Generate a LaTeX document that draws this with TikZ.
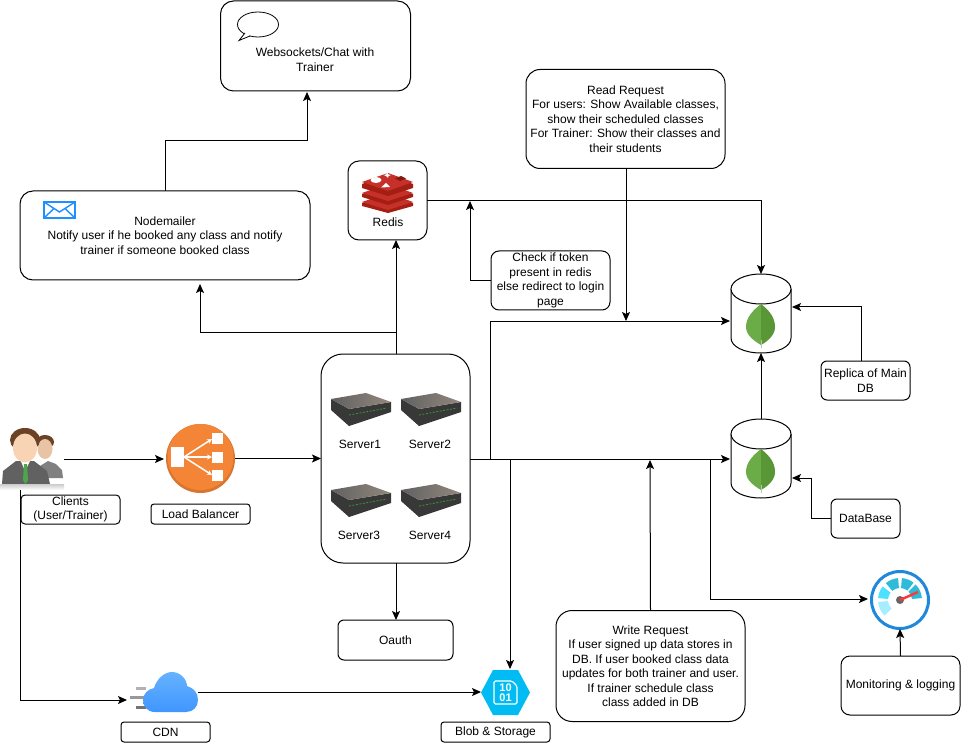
\documentclass[tikz,border=0pt]{standalone}
\usepackage{fontspec}
\setmainfont{Liberation Sans}
\usetikzlibrary{arrows.meta}

\definecolor{lbfill}{HTML}{F58536}
\definecolor{lbdark}{HTML}{D9752E}
\definecolor{leaflight}{HTML}{6CAC48}
\definecolor{leafdark}{HTML}{599636}
\definecolor{redislight}{HTML}{C6302B}
\definecolor{redisdark}{HTML}{A41E11}
\definecolor{blobfill}{HTML}{00BCF2}
\definecolor{ringblue}{HTML}{1E88DC}
\definecolor{mailblue}{HTML}{1E8FFF}
\definecolor{sega}{HTML}{A6EEFF}
\definecolor{segb}{HTML}{4DE0FF}
\definecolor{segc}{HTML}{2DBBD9}
\definecolor{skinfront}{HTML}{F8D3B4}
\definecolor{skinback}{HTML}{E8C3A4}
\definecolor{hair}{HTML}{6B4226}

\begin{document}
\begin{tikzpicture}[
	  x=1pt,y=-1pt,
	  line width=1pt,
	  >={Stealth[length=9pt,width=8pt,inset=2pt]},
	  every node/.style={font=\fontsize{12}{14.5}\selectfont,align=center,inner sep=0pt,outer sep=0pt},
	  box/.style={draw,fill=white,rounded corners=#1},
	  box/.default=10,
	  dbnode/.style={minimum width=60,minimum height=79},
	  dbcan/.pic={
	    \draw [fill=white] (-30,-24.5) -- (-30,24.5) .. controls (-30,33) and (-17,39.5) .. (0,39.5) .. controls (17,39.5) and (30,33) .. (30,24.5) -- (30,-24.5);
	    \draw [fill=white] (0,-24.5) ellipse [x radius=30,y radius=15];
	    \fill [leaflight] (0,-9.5) .. controls (-9,-2.5) and (-15,4.5) .. (-15,13.5) .. controls (-15,21.5) and (-7,27.5) .. (0,31.5) -- cycle;
	    \fill [leafdark] (0,-9.5) .. controls (9,-2.5) and (14,4.5) .. (14,13.5) .. controls (14,21.5) and (7,27.5) .. (0,31.5) -- cycle;
	    \draw [black!25] (0,26) -- (0,34.5);
	  },
	  srvicon/.pic={
	    \fill [black!78] (0,6) -- (18,16) -- (60,9) -- (60,19) -- (18,33) -- (0,17) -- cycle;
	    \shade [left color=black!62,right color=brown!30!black!55] (0,6) -- (35,0) -- (60,9) -- (18,16) -- cycle;
	    \draw [green!50!black!80,line width=0.8pt,dash pattern=on 2pt off 1.5pt] (18,22) -- (56,15);
	  },
	]

	\useasboundingbox (0,0) rectangle (961,743);

	% boxes
	\node (chat) [box=13,minimum width=190,minimum height=90] at (315.5,46) {};
	\node (chattxt) at (315,59.5) {Websockets/Chat with\\Trainer};
	\node (redis) [box=11,minimum width=79,minimum height=79] at (387.5,200.5) {};
	\node (redistxt) at (388,222) {Redis};
	\node (mailer) [box=13,minimum width=290,minimum height=89] at (165,235.5) {Nodemailer\\Notify user if he booked any class and notify\\trainer if someone booked class};
	\node (read) [box=14,minimum width=199,minimum height=99] at (625.5,119) {Read Request\\For users: Show Available classes,\\show their scheduled classes\\For Trainer: Show their classes and\\their students};
	\node (check) [box=8,minimum width=119,minimum height=59] at (550.5,280.5) {Check if token\\present in redis\\else redirect to login\\page};
	\node (server) [box=22,minimum width=149,minimum height=209] at (395.5,458.5) {};
	\node (clientlbl) [box=4,minimum width=99,minimum height=29] at (70.5,509.5) {Clients\\(User/Trainer)};
	\node (lblbl) [box=3,minimum width=99,minimum height=20] at (200.5,514) {Load Balancer};
	\node (oauth) [box=6,minimum width=115,minimum height=40] at (395.5,640) {Oauth};
	\node (replica) [box=6,minimum width=89,minimum height=39] at (865.5,380.5) {Replica of Main\\DB};
	\node (database) [box=6,minimum width=69,minimum height=39] at (865.5,518.5) {DataBase};
	\node (monitor) [box=9,minimum width=119,minimum height=59] at (900.5,685.5) {Monitoring \& logging};
	\node (write) [box=16,minimum width=189,minimum height=111] at (650.5,666) {Write Request\\If user signed up data stores in\\DB. If user booked class data\\updates for both trainer and user.\\If trainer schedule class\\class added in DB};
	\node (cdnlbl) [box=3,minimum width=89,minimum height=20] at (165.5,732) {CDN};
	\node (bloblbl) [box=3,minimum width=109,minimum height=20] at (495.5,732) {Blob \& Storage};

	% databases
	\node (maindb) [dbnode] at (761,313.5) {};
	\node (slavedb) [dbnode] at (761,458.5) {};
	\path (maindb) pic {dbcan};
	\path (slavedb) pic {dbcan};

	% servers
	\path (331,393) pic {srvicon};
	\path (401,393) pic {srvicon};
	\path (331,484) pic {srvicon};
	\path (401,484) pic {srvicon};
	\node (srvone) at (360,444) {Server1};
	\node (srvtwo) at (430,444) {Server2};
	\node (srvthree) at (359,535) {Server3};
	\node (srvfour) at (430,535) {Server4};

	% clients
	\node (clients) [minimum width=63,minimum height=62] at (32.5,459) {};
	\fill [black!50] (40,478) -- (40,466) -- (48,461) -- (56,464) -- (62,470) -- (63,478) -- cycle;
	\fill [hair] (45,442) ellipse [x radius=9,y radius=7];
	\fill [skinback] (45,449) ellipse [x radius=7.5,y radius=10];
	\fill [black!62] (2,484) -- (3,471) -- (16,461) -- (34,461) -- (47,471) -- (50,484) -- cycle;
	\fill [white] (20,459) -- (25,471) -- (31,459) -- cycle;
	\fill [green!50!black!70] (24,464) -- (27,464) -- (28,480) -- (25.5,484) -- (23,480) -- cycle;
	\fill [hair] (25,440) ellipse [x radius=15,y radius=12];
	\fill [skinfront] (25,448) ellipse [x radius=12,y radius=14.5];
	\shade [top color=black!20,bottom color=white] (0,484) rectangle (64,490);

	% load balancer
	\node (lb) [circle,fill=lbdark,minimum size=69] at (200.5,458.5) {};
	\fill [lbfill] (200.5,457) circle [radius=33];
	\fill [white] (171,447) rectangle (184,467);
	\fill [white] (212,433) rectangle (223,444);
	\fill [white] (212,452) rectangle (223,463);
	\fill [white] (212,470) rectangle (223,481);
	\begin{scope}[white,line width=1.5pt,>={Stealth[length=5pt,width=5pt]}]
	\draw [->] (184,457) -- (212,439);
	\draw [->] (184,457) -- (212,457);
	\draw [->] (184,457) -- (212,475);
	\end{scope}

	% redis logo
	\fill [redisdark] (362,203) -- (388,194) -- (413,203) -- (413,206) -- (388,213) -- (362,206) -- cycle;
	\fill [redislight] (362,202) -- (388,193) -- (413,202) -- (388,210) -- cycle;
	\fill [redisdark] (362,194) -- (388,185) -- (413,194) -- (413,197) -- (388,205) -- (362,197) -- cycle;
	\fill [redislight] (362,193) -- (388,184) -- (413,193) -- (388,201) -- cycle;
	\fill [redisdark] (362,184) -- (388,175) -- (413,184) -- (413,188) -- (388,196) -- (362,188) -- cycle;
	\fill [redislight] (362,182) -- (388,173) -- (413,182) -- (388,191) -- cycle;
	\fill [white] (376,180) ellipse [x radius=5.5,y radius=3];
	\fill [white] (387,172.5) -- (388.5,174.5) -- (391,175) -- (388.5,176) -- (388,178) -- (386,176) -- (383.5,175) -- (386,174.5) -- cycle;
	\fill [white] (381,187.5) -- (386,183) -- (390,187) -- cycle;
	\fill [redisdark!80!black] (395,178.5) -- (401,176) -- (406,178.5) -- (400,181) -- cycle;

	% mail and bubble
	\draw [mailblue,line width=1.6pt] (44,202) rectangle (75,218);
	\draw [mailblue,line width=1.4pt] (44,202) -- (59.5,212) -- (75,202) (44,218) -- (54,208.5) (75,218) -- (65,208.5);
	\draw [line width=0.8pt] (258,24.5) ellipse [x radius=20.5,y radius=12.5];
	\draw [line width=0.8pt,fill=white] (245,33) -- (239,40.5) -- (250,36);
	\fill [white] (246,33.2) -- (243,37) -- (249.5,35) -- cycle;

	% cdn
	\node (cdn) [minimum width=68,minimum height=40] at (164,692) {};
	\draw [black!30,line width=3pt] (136,688) -- (146,688);
	\draw [black!40,line width=3pt] (130,697) -- (146,697);
	\draw [black!55,line width=3pt] (136,707) -- (146,707);
	\shade [top color=blue!50!cyan!60,bottom color=blue!55!cyan!75!white]
	  (155,712) .. controls (147,712) and (143,706) .. (143,700) .. controls (143,694) and (148,689) .. (154,688)
	  .. controls (157,678) and (165,672) .. (172,672) .. controls (181,672) and (187,680) .. (187,686)
	  .. controls (194,688) and (198,693) .. (198,700) .. controls (198,707) and (193,712) .. (186,712) -- cycle;

	% blob
	\node (blob) [minimum width=49,minimum height=45] at (505.5,692.5) {};
	\fill [blobfill] (481,692.5) -- (493,670) -- (518,670) -- (530,692.5) -- (518,715) -- (493,715) -- cycle;
	\draw [white,line width=1.2pt,rounded corners=1.5] (494,681) -- (512,681) -- (517,686) -- (517,704) -- (494,704) -- cycle;
	\node (bloba) [white,font=\fontsize{11}{11}\selectfont\bfseries] at (505.5,687.5) {10};
	\node (blobb) [white,font=\fontsize{11}{11}\selectfont\bfseries] at (505.5,698) {01};

	% gauge
	\node (gauge) [circle,draw=ringblue,line width=3pt,fill=white,minimum size=57] at (900,600) {};
	\begin{scope}[shift={(900,600)}]
	\foreach \sa/\ea/\segcol in {-225/-185/sega,-175/-142/segb,-130/-95/segc,-85/-52/segc,-45/-5/segc}
	  \fill [\segcol] (\sa:22) arc [start angle=\sa,end angle=\ea,radius=22] -- (\ea:12) arc [start angle=\ea,end angle=\sa,radius=12] -- cycle;
	\end{scope}
	\fill [black!60] (900,600) circle [radius=4];
	\draw [red!70!pink,line width=2.5pt] (900,600) -- (918,592);

	% connectors
	\coordinate (lbin) at (164,459);
	\coordinate (clientsout) at (64,459);
	\coordinate (clientsdown) at (20,490);
	\coordinate (cdnin) at (127,700);
	\coordinate (cdnout) at (198,692);
	\coordinate (blobin) at (481,692);
	\coordinate (srvtop) at (396,354);
	\coordinate (srvbranch) at (396,332);
	\coordinate (srvright) at (470,459);
	\coordinate (readjoin) at (490,459);
	\coordinate (blobjoin) at (510,459);
	\coordinate (gaugejoin) at (710,459);
	\coordinate (mailerup) at (200,284);
	\coordinate (chatin) at (307,92);
	\coordinate (mailerbend) at (165,141);
	\coordinate (redisjoin) at (470,201);
	\coordinate (readdown) at (626,321);
	\coordinate (writeup) at (650,460);
	\coordinate (maindbin) at (730,321);
	\coordinate (slavedbin) at (730,459);
	\coordinate (replicaout) at (861,361);
	\coordinate (replicain) at (792,307);
	\coordinate (databasebend) at (811,478);
	\coordinate (databasein) at (792,478);
	\coordinate (gaugein) at (868,599);
	\coordinate (blobtop) at (510,669);
	\coordinate (gaugebelow) at (900,629);
	\coordinate (srvbottom) at (396,563);
	\coordinate (oauthin) at (396,620);

	\draw [->] (clientsout) -- (lbin);
	\draw [->] (lb.east) -- (server.west);
	\draw [->] (clientsdown) |- (cdnin);
	\draw [->] (cdnout) -- (blobin);
	\draw [->] (srvtop) -- (srvtop |- redis.south);
	\draw [->] (srvbranch) -| (mailerup);
	\draw [->] (mailer.north) |- (mailerbend) -| (chatin);
	\draw [->] (redis.east) -| (maindb.north);
	\draw [->] (check.west) -| (redisjoin);
	\draw [->] (read.south -| readdown) -- (readdown);
	\draw [->] (srvright) -- (slavedbin);
	\draw [->] (readjoin) |- (maindbin);
	\draw [->] (blobjoin) -- (blobtop);
	\draw [->] (gaugejoin) |- (gaugein);
	\draw [->] (write.north) -- (writeup);
	\draw [->] (slavedb.north) -- (maindb.south);
	\draw [->] (replicaout) |- (replicain);
	\draw [->] (database.west) -| (databasebend) -- (databasein);
	\draw [->] (monitor.north) -- (gaugebelow);
	\draw [->] (srvbottom) -- (oauthin);
\end{tikzpicture}
\end{document}
